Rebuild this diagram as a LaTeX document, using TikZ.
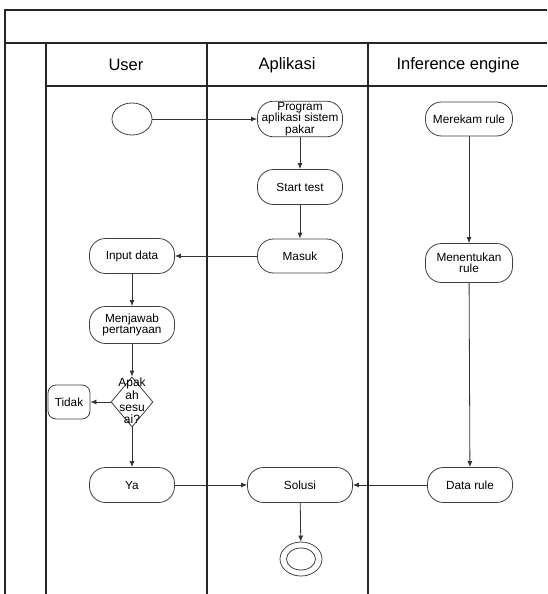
\documentclass[tikz,border=0pt]{standalone}
\usepackage{fontspec}
\setmainfont{Liberation Sans}
\usetikzlibrary{positioning,shapes.geometric,arrows.meta}

\begin{document}
\begin{tikzpicture}[x=1pt, y=-1pt,
    act/.style={draw=black!75, line width=0.8pt, rounded corners=16pt,
      minimum width=85pt, minimum height=35pt, align=center, inner sep=1pt,
      font=\fontsize{11.8}{11.5}\selectfont},
    startnode/.style={ellipse, draw=black!75, line width=0.8pt,
      minimum width=40pt, minimum height=32pt, inner sep=0pt},
    decision/.style={diamond, draw=black!75, line width=0.8pt,
      minimum width=42pt, minimum height=50pt, inner sep=0pt},
    lane/.style={black!85, line width=1.2pt},
    lanehead/.style={font=\fontsize{16.5}{18}\selectfont},
    arrow/.style={-{Latex[length=6pt, width=5pt]}, line width=0.8pt, black!80},
  ]
    \useasboundingbox (0,0) rectangle (547,594);
    % swimlane frame
    \draw[lane] (5,594) -- (5,10) -- (547,10);
    \draw[lane] (5,43) -- (547,43);
    \draw[lane] (46,86) -- (547,86);
    \draw[lane] (46,43) -- (46,594);
    \draw[lane] (207,43) -- (207,594);
    \draw[lane] (368,43) -- (368,594);
    \node[lanehead] (huser) at (126,65) {User};
    \node[lanehead] (happ)  at (287,65) {Aplikasi};
    \node[lanehead] (hinf)  at (458,65) {Inference engine};

    % User
    \node[startnode] (start) at (132,119) {};
    \node[act] (input) at (132,256) {Input data};
    \node[act, minimum height=37pt] (jawab) at (132,325) {Menjawab\\pertanyaan};
    \node[decision] (cek) at (132,402) {};
    \node[font=\fontsize{12}{12.3}\selectfont, align=center] (cektxt) at (132,401) {Apak\\ah\\sesu\\ai?};
    \node[act, rounded corners=8pt, minimum width=42pt, minimum height=34pt] (tidak) at (69,402) {Tidak};
    \node[act] (ya) at (132,485) {Ya};

    % Aplikasi
    \node[act, minimum height=33pt] (prog) at (300,119) {Program\\aplikasi sistem\\pakar};
    \node[act] (test) at (300,187) {Start test};
    \node[act, minimum height=34pt] (masuk) at (300,256) {Masuk};
    \node[act, minimum width=105pt] (solusi) at (300,485) {Solusi};
    \node[startnode, minimum width=42pt, minimum height=34pt] (fin) at (301,559) {};
    \draw[draw=black!75, line width=0.8pt] (fin.center) ellipse (14.5pt and 11pt);

    % Inference engine
    \node[act, minimum width=87pt, minimum height=34pt] (rekam) at (469,119) {Merekam rule};
    \node[act, minimum width=87pt, minimum height=39pt] (tentu) at (469,263) {Menentukan\\rule};
    \node[act] (data) at (470,485) {Data rule};

    \draw[arrow] (start) -- (prog);
    \draw[arrow] (prog) -- (test);
    \draw[arrow] (test) -- (masuk);
    \draw[arrow] (masuk) -- (input);
    \draw[arrow] (input) -- (jawab);
    \draw[arrow] (jawab) -- (cek);
    \draw[arrow] (cek) -- (tidak);
    \draw[arrow] (cek) -- (ya);
    \draw[arrow] (ya) -- (solusi);
    \draw[arrow] (data) -- (solusi);
    \draw[arrow] (solusi) -- (fin);
    \draw[arrow] (rekam) -- (tentu);
    \draw[arrow] (tentu) -- (data);
  \end{tikzpicture}
\end{document}
